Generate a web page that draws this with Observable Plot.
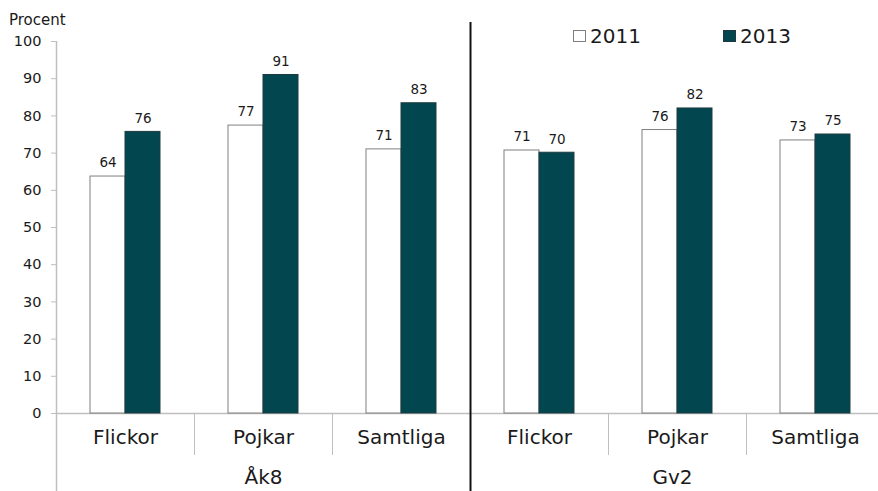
<!DOCTYPE html>
<html>
<head>
<meta charset="utf-8">
<script src="https://cdn.jsdelivr.net/npm/d3@7"></script>
<script src="https://cdn.jsdelivr.net/npm/@observablehq/plot@0.6"></script>
<style>
  body { margin: 0; background: #fff; font-family: "DejaVu Sans", Verdana, sans-serif; }
  #wrap { position: relative; width: 878px; height: 491px; overflow: hidden; }
  .abs { position: absolute; white-space: nowrap; color: #1a1a1a; }
  .sq { position: absolute; width: 11px; height: 10px; }
</style>
</head>
<body>
<div id="wrap"></div>
<script>
const groups = ["Åk8", "Gv2"];
const categories = ["Flickor", "Pojkar", "Samtliga"];
const years = ["2011", "2013"];
const values2011 = [63.7, 77.4, 71.0, 70.7, 76.2, 73.4];
const values2013 = [75.7, 91.0, 83.4, 70.1, 82.0, 75.0];
const yTicks = [0, 10, 20, 30, 40, 50, 60, 70, 80, 90, 100];
const yLabel = "Procent";
const colors = {"2011": "#ffffff", "2013": "#02464f"};

const keys = [];
const cats = [];
groups.forEach(g => categories.forEach(c => { keys.push(g + "|" + c); cats.push({key: g + "|" + c, group: g, category: c}); }));
const rows2011 = keys.map((k, i) => ({key: k, year: years[0], value: values2011[i]}));
const rows2013 = keys.map((k, i) => ({key: k, year: years[1], value: values2013[i]}));
const groupLabels = groups.map(g => ({key: g + "|" + categories[1], label: g}));

const plot = Plot.plot({
  width: 878,
  height: 491,
  marginLeft: 56,
  marginRight: 0,
  marginTop: 41,
  marginBottom: 78,
  style: {fontFamily: "DejaVu Sans, Verdana, sans-serif", color: "#1a1a1a", background: "transparent"},
  x: {domain: keys, range: [56, 884], padding: 0, round: false, axis: null},
  y: {domain: [0, 100], axis: null},
  marks: [
    Plot.ruleX([keys[0]], {stroke: "#bfbfbf", strokeWidth: 1.5, dx: -69, insetBottom: -78}),
    Plot.axisY({ticks: yTicks, tickSize: 5, tickPadding: 10, fontSize: 14.5, stroke: "#bfbfbf", label: null}),
    Plot.ruleY([0], {stroke: "#bfbfbf", strokeWidth: 1.5}),
    Plot.ruleX(keys.filter((k, i) => i > 0 && i !== 3), {stroke: "#bfbfbf", dx: -69, insetTop: 372, insetBottom: -42}),
    Plot.barY(rows2011, {x: "key", y: "value", fill: colors["2011"], stroke: "#7f7f7f", strokeWidth: 1, insetLeft: 34, insetRight: 69}),
    Plot.barY(rows2013, {x: "key", y: "value", fill: colors["2013"], stroke: "#1e3c40", strokeWidth: 1, insetLeft: 69, insetRight: 34}),
    Plot.text(rows2011, {x: "key", y: "value", text: d => d3.format(".0f")(d.value), dx: -17.5, dy: -13.5, fontSize: 13.5}),
    Plot.text(rows2013, {x: "key", y: "value", text: d => d3.format(".0f")(d.value), dx: 17.5, dy: -13.5, fontSize: 13.5}),
    Plot.text(cats, {x: "key", frameAnchor: "bottom", text: "category", dy: 30, fontSize: 20}),
    Plot.text(groupLabels.slice(0, 1), {x: "key", frameAnchor: "bottom", text: "label", dy: 70, fontSize: 20}),
    Plot.text(groupLabels.slice(1), {x: "key", frameAnchor: "bottom", text: "label", dy: 70, dx: -5, fontSize: 20}),
    Plot.ruleX([keys[3]], {stroke: "#111", strokeWidth: 2, dx: -69, insetTop: -19, insetBottom: -78})
  ]
});

const wrap = document.getElementById("wrap");
wrap.appendChild(plot);

function addText(txt, left, top, size) {
  const d = document.createElement("div");
  d.className = "abs";
  d.textContent = txt;
  d.style.left = left + "px";
  d.style.top = top + "px";
  d.style.fontSize = size + "px";
  d.style.lineHeight = size + "px";
  wrap.appendChild(d);
}
function addSquare(left, top, fill, stroke) {
  const d = document.createElement("div");
  d.className = "sq";
  d.style.left = left + "px";
  d.style.top = top + "px";
  d.style.background = fill;
  d.style.border = "1px solid " + stroke;
  wrap.appendChild(d);
}
addText(yLabel, 9, 13, 15);
addSquare(573, 30, colors["2011"], "#7f7f7f");
addText(years[0], 590, 26, 20);
addSquare(723, 30, colors["2013"], "#1e3c40");
addText(years[1], 740, 26, 20);
</script>
</body>
</html>
